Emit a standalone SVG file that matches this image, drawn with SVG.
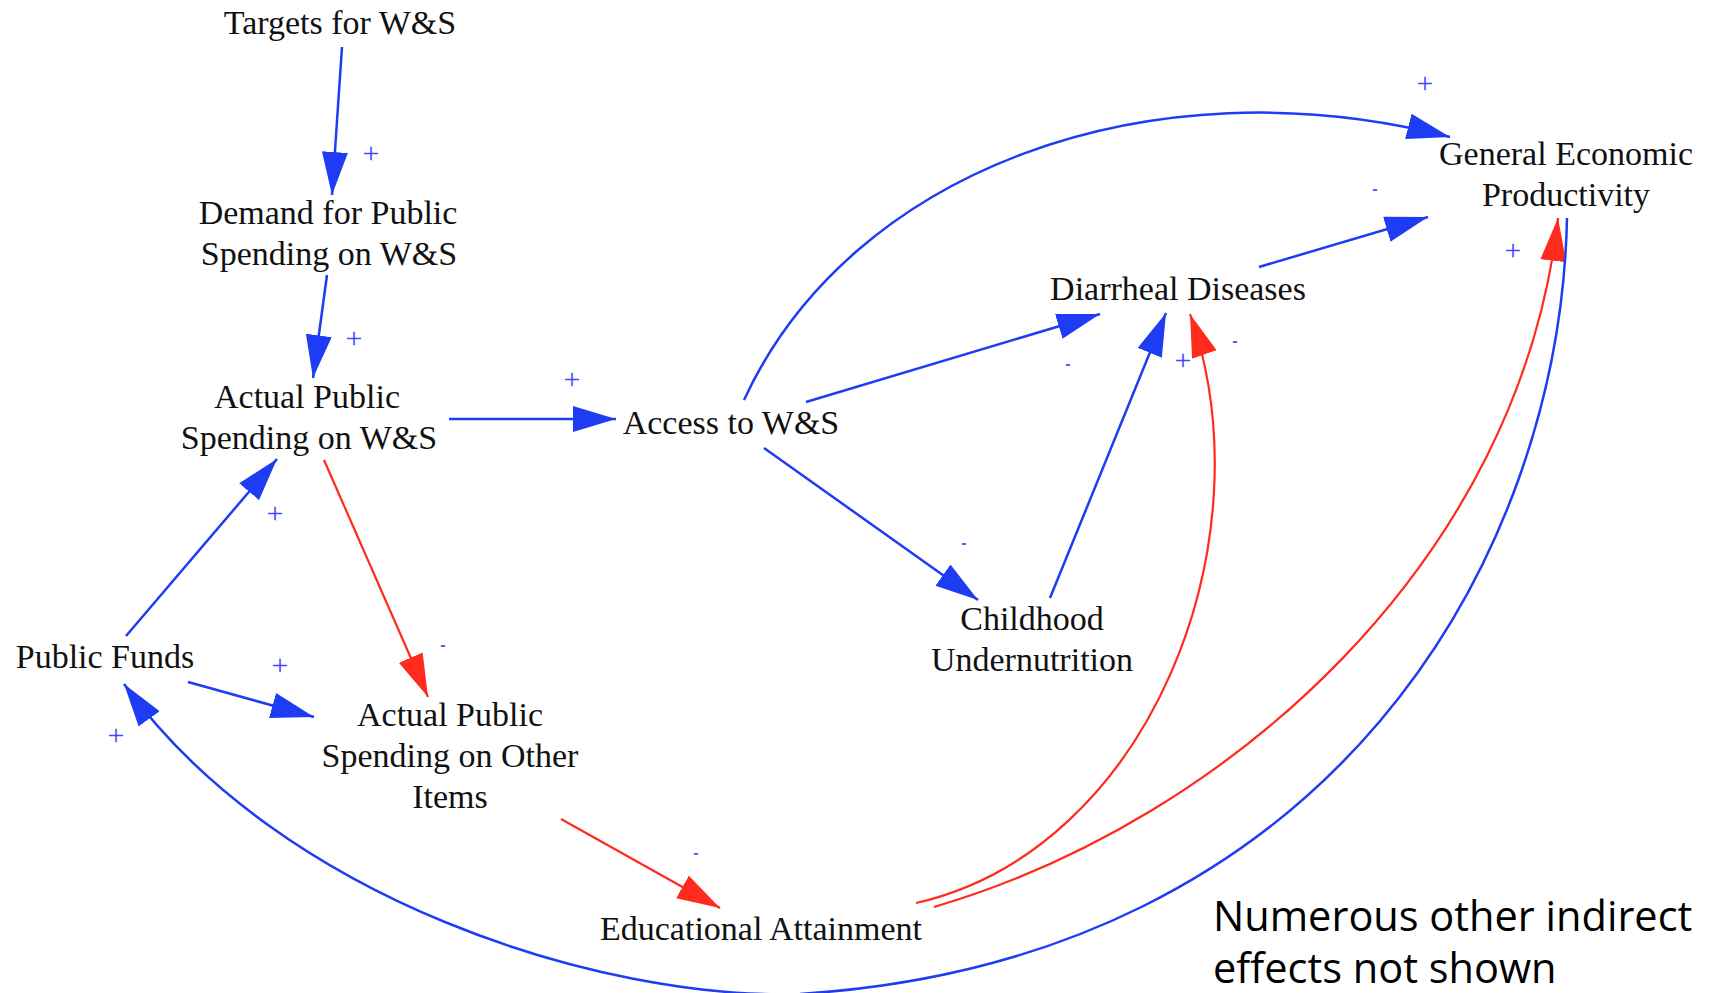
<svg xmlns="http://www.w3.org/2000/svg" width="1713" height="993" viewBox="0 0 1713 993">
<style>
.n{font-family:"Liberation Serif","Times New Roman",serif;font-size:34px;fill:#111;text-anchor:middle}
.note{font-family:"Open Sans","Noto Sans",sans-serif;font-size:41.5px;fill:#000}
.b{stroke:#1f3cf5;stroke-width:2.5;fill:none}
.r{stroke:#ff2b1c;stroke-width:2.2;fill:none}
.ab{marker-end:url(#hb)}
.ar{marker-end:url(#hr)}
.s{font-family:"Liberation Serif","Times New Roman",serif;font-size:30px;fill:#4646ff;text-anchor:middle}
.m{font-family:"Liberation Sans",Arial,sans-serif;font-size:16px;font-weight:bold;fill:#5a5aff;text-anchor:middle}
</style>
<defs>
<marker id="hb" markerUnits="userSpaceOnUse" markerWidth="44" markerHeight="28" refX="43" refY="13" orient="auto">
<path d="M0,0 L43,13 L0,26 z" fill="#1f3cf5"/>
</marker>
<marker id="hr" markerUnits="userSpaceOnUse" markerWidth="44" markerHeight="28" refX="43" refY="13" orient="auto">
<path d="M0,0 L43,13 L0,26 z" fill="#ff2b1c"/>
</marker>
</defs>
<rect width="1713" height="993" fill="#fff"/>
<g id="connectors">
<line class="b ab" x1="342" y1="47" x2="332" y2="195"/>
<line class="b ab" x1="327" y1="275" x2="313" y2="378"/>
<line class="b ab" x1="449" y1="419" x2="616" y2="419"/>
<line class="b ab" x1="126" y1="636" x2="277" y2="459"/>
<line class="b ab" x1="188" y1="682" x2="314" y2="717"/>
<line class="r ar" x1="324" y1="460" x2="428" y2="697"/>
<line class="r ar" x1="561" y1="819" x2="720" y2="908"/>
<line class="b ab" x1="806" y1="402" x2="1100" y2="314"/>
<line class="b ab" x1="764" y1="448" x2="978" y2="600"/>
<line class="b ab" x1="1050" y1="598" x2="1166" y2="313"/>
<line class="b ab" x1="1259" y1="267" x2="1428" y2="217"/>
<path class="b ab" d="M744,400 C850,170 1150,60 1450,137"/>
<path class="r ar" d="M916,903 C1150,850 1270,540 1190,314"/>
<path class="r ar" d="M934,907 C1230,820 1520,560 1558,218"/>
<path class="b ab" d="M1567,218 C1560,560 1330,960 800,994 C600,1000 280,900 124,684"/>
</g>
<g id="signs">
<text class="s" x="371" y="163">+</text>
<text class="s" x="354" y="348">+</text>
<text class="s" x="572" y="389">+</text>
<text class="s" x="275" y="523">+</text>
<text class="s" x="280" y="675">+</text>
<text class="s" x="116" y="745">+</text>
<text class="s" x="1425" y="93">+</text>
<text class="s" x="1513" y="260">+</text>
<text class="s" x="1183" y="370">+</text>
<text class="m" x="443" y="650">-</text>
<text class="m" x="696" y="858">-</text>
<text class="m" x="1375" y="194">-</text>
<text class="m" x="1068" y="369">-</text>
<text class="m" x="1235" y="346">-</text>
<text class="m" x="964" y="548">-</text>
</g>
<g id="targets"><text class="n" x="340" y="34">Targets for W&amp;S</text></g>
<g id="demand"><text class="n" x="328" y="224">Demand for Public</text><text class="n" x="329" y="265">Spending on W&amp;S</text></g>
<g id="actual-ws"><text class="n" x="307" y="408">Actual Public</text><text class="n" x="309" y="449">Spending on W&amp;S</text></g>
<g id="access"><text class="n" x="731" y="434">Access to W&amp;S</text></g>
<g id="public-funds"><text class="n" x="105" y="668">Public Funds</text></g>
<g id="actual-other"><text class="n" x="450" y="726">Actual Public</text><text class="n" x="450" y="767">Spending on Other</text><text class="n" x="450" y="808">Items</text></g>
<g id="education"><text class="n" x="761" y="940">Educational Attainment</text></g>
<g id="childhood"><text class="n" x="1032" y="630">Childhood</text><text class="n" x="1032" y="671">Undernutrition</text></g>
<g id="diarrheal"><text class="n" x="1178" y="300">Diarrheal Diseases</text></g>
<g id="productivity"><text class="n" x="1566" y="165">General Economic</text><text class="n" x="1566" y="206">Productivity</text></g>
<g id="note"><text class="note" x="1213" y="931">Numerous other indirect</text><text class="note" x="1213" y="983">effects not shown</text></g>
</svg>
